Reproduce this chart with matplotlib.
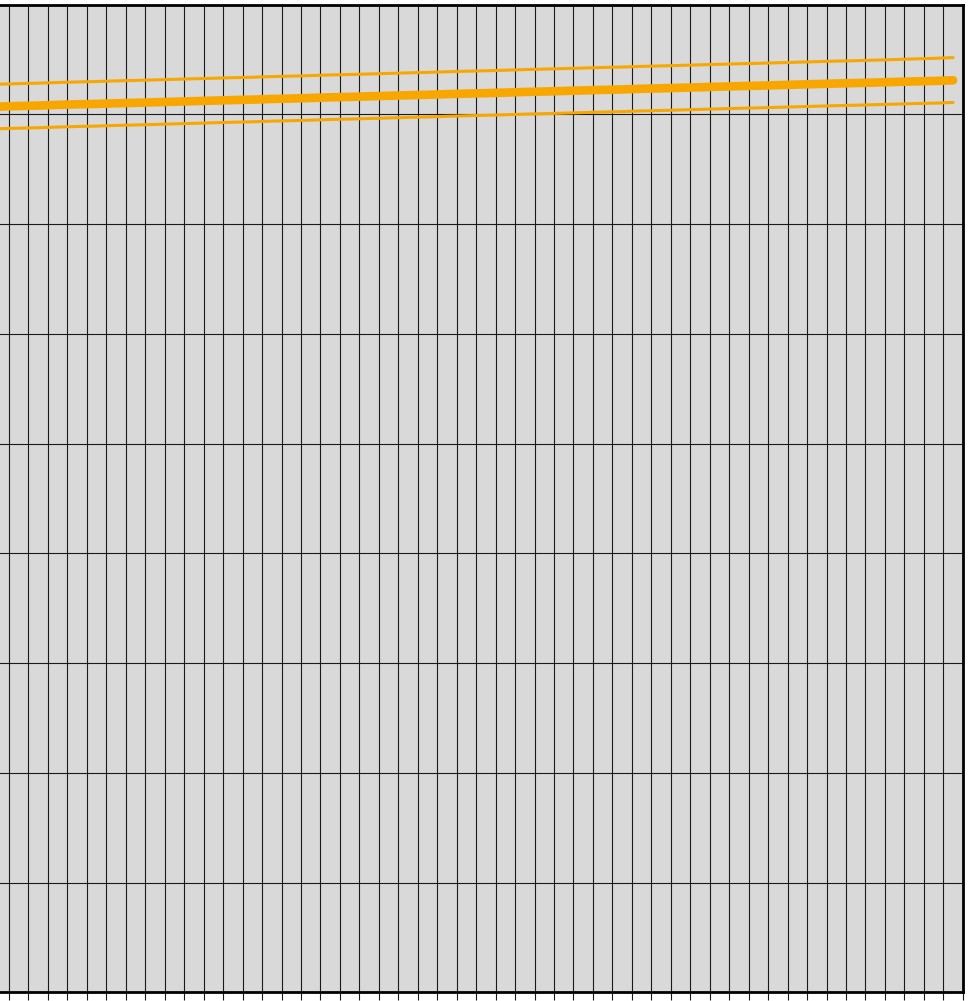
import numpy as np
import matplotlib
matplotlib.use("Agg")
import matplotlib.pyplot as plt
from matplotlib.ticker import MultipleLocator

# period positions (centres of the 50 grid cells)
periods = np.arange(50) + 0.5

# central estimate
central = [80.72, 80.77, 80.81, 80.87, 80.92, 80.96, 81.02, 81.06, 81.11, 81.16,
           81.21, 81.26, 81.31, 81.35, 81.41, 81.45, 81.50, 81.56, 81.60, 81.65,
           81.70, 81.75, 81.79, 81.85, 81.90, 81.94, 81.99, 82.05, 82.09, 82.14,
           82.19, 82.24, 82.28, 82.34, 82.38, 82.43, 82.48, 82.53, 82.58, 82.62,
           82.67, 82.72, 82.77, 82.82, 82.86, 82.91, 82.96, 83.01, 83.05, 83.11]

# upper bound
upper = [82.76, 82.81, 82.85, 82.91, 82.96, 83.00, 83.06, 83.10, 83.15, 83.20,
         83.25, 83.30, 83.35, 83.39, 83.45, 83.49, 83.54, 83.60, 83.64, 83.69,
         83.74, 83.79, 83.83, 83.89, 83.94, 83.98, 84.03, 84.09, 84.13, 84.18,
         84.23, 84.28, 84.32, 84.38, 84.42, 84.47, 84.52, 84.57, 84.62, 84.66,
         84.71, 84.76, 84.81, 84.86, 84.90, 84.95, 85.00, 85.06, 85.11, 85.18]

# lower bound
lower = [78.70, 78.75, 78.79, 78.85, 78.90, 78.94, 79.00, 79.04, 79.09, 79.14,
         79.19, 79.24, 79.29, 79.33, 79.39, 79.43, 79.48, 79.54, 79.58, 79.63,
         79.68, 79.73, 79.77, 79.83, 79.88, 79.92, 79.97, 80.03, 80.07, 80.12,
         80.17, 80.22, 80.26, 80.32, 80.36, 80.41, 80.46, 80.51, 80.56, 80.60,
         80.65, 80.70, 80.75, 80.80, 80.84, 80.89, 80.94, 80.99, 81.03, 81.09]

orange = "#f8a700"

fig = plt.figure(figsize=(9.68, 10.01), dpi=100)
# axes extends a little past the left edge of the figure
ax = fig.add_axes([-0.0108, 0.00859, 1.00543, 0.98671])
ax.set_facecolor("#d9d9d9")

ax.plot(periods, upper, color=orange, lw=2.2, solid_capstyle="round", zorder=3)
ax.plot(periods, lower, color=orange, lw=2.2, solid_capstyle="round", zorder=3)
ax.plot(periods, central, color=orange, lw=6.2, solid_capstyle="round", zorder=4)

ax.set_xlim(0, 50)
ax.set_ylim(0, 90)
ax.xaxis.set_major_locator(MultipleLocator(1))
ax.yaxis.set_major_locator(MultipleLocator(10))

ax.set_axisbelow(True)
ax.grid(True, color="#1a1a1a", lw=0.8)
# tick labels fall outside the visible area, so leave them off
ax.tick_params(axis="x", direction="out", length=6, width=0.8, color="#1a1a1a",
               labelbottom=False)
ax.tick_params(axis="y", length=0, labelleft=False)
for side in ["top", "right", "bottom", "left"]:
    ax.spines[side].set_linewidth(2)
    ax.spines[side].set_color("black")

fig.savefig("out.png", dpi=100)
